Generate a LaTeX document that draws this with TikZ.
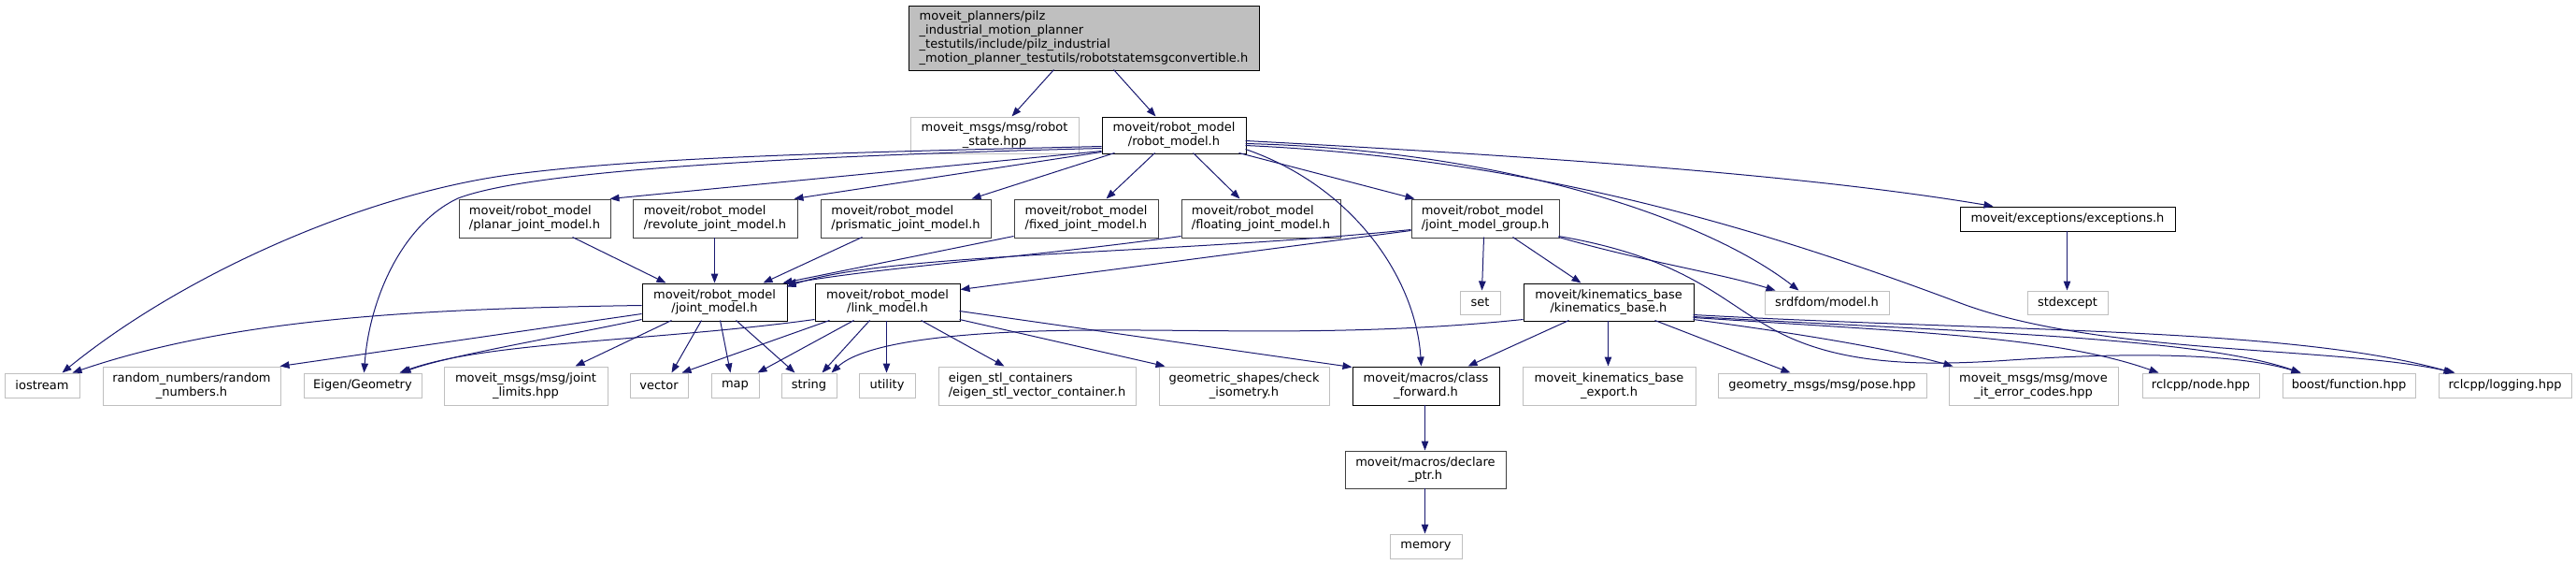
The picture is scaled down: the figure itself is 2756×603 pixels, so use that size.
\documentclass[tikz,border=0pt]{standalone}
\usepackage{fontspec}
\setmainfont{DejaVu Sans}
\usetikzlibrary{arrows.meta,calc}
\definecolor{edgeblue}{HTML}{191970}
\definecolor{lightb}{HTML}{BFBFBF}
\definecolor{darkb}{HTML}{404040}
\newcommand\mkbox[7]{\node[#2, minimum width={(#5)-(#3)}, minimum height={(#6)-(#4)}] (#1) at ({((#3)+(#5))/2},{((#4)+(#6))/2}) {#7};}
\begin{document}
\begin{tikzpicture}[x=1pt,y=-1pt,
  box/.style={draw, rectangle, inner sep=0pt, align=center, line width=1pt,
    font=\fontsize{13}{14.8}\selectfont, text=black},
  docb/.style={box, draw=black},
  darkbox/.style={box, draw=darkb, align=left},
  extb/.style={box, draw=lightb},
  rootb/.style={box, draw=black, fill=lightb, align=left},
  e/.style={draw=edgeblue, line width=1pt, -{Triangle[length=10pt,width=7.5pt]}}]
\fill[white] (0,0) rectangle (2756,603);
\useasboundingbox (0,0) rectangle (2756,603);
% nodes
\mkbox{root}{rootb}{972}{6}{1347}{75}{moveit\_planners/pilz\\\_industrial\_motion\_planner\\\_testutils/include/pilz\_industrial\\\_motion\_planner\_testutils/robotstatemsgconvertible.h}
\mkbox{rstate}{extb}{974}{125}{1154}{164}{moveit\_msgs/msg/robot\\\_state.hpp}
\mkbox{rm}{docb}{1179}{125}{1333}{164}{moveit/robot\_model\\/robot\_model.h}
\mkbox{planar}{darkbox}{491}{213}{653}{254}{moveit/robot\_model\\/planar\_joint\_model.h}
\mkbox{revolute}{darkbox}{677}{213}{853}{254}{moveit/robot\_model\\/revolute\_joint\_model.h}
\mkbox{prismatic}{darkbox}{878}{213}{1060}{254}{moveit/robot\_model\\/prismatic\_joint\_model.h}
\mkbox{fixed}{darkbox}{1085}{213}{1239}{254}{moveit/robot\_model\\/fixed\_joint\_model.h}
\mkbox{floating}{darkbox}{1264}{213}{1434}{254}{moveit/robot\_model\\/floating\_joint\_model.h}
\mkbox{jmg}{darkbox}{1510}{213}{1668}{254}{moveit/robot\_model\\/joint\_model\_group.h}
\mkbox{exc}{docb}{2097}{221}{2327}{247}{moveit/exceptions/exceptions.h}
\mkbox{jm}{docb}{687}{303}{842}{343}{moveit/robot\_model\\/joint\_model.h}
\mkbox{lm}{docb}{872}{303}{1027}{343}{moveit/robot\_model\\/link\_model.h}
\mkbox{set}{extb}{1562}{311}{1605}{336}{set}
\mkbox{kb}{docb}{1630}{303}{1812}{343}{moveit/kinematics\_base\\/kinematics\_base.h}
\mkbox{srdf}{extb}{1888}{311}{2021}{336}{srdfdom/model.h}
\mkbox{stdx}{extb}{2169}{311}{2255}{336}{stdexcept}
\mkbox{iostream}{extb}{5}{399}{85}{425}{iostream}
\mkbox{random}{extb}{110}{392}{300}{433}{random\_numbers/random\\\_numbers.h}
\mkbox{eigen}{extb}{325}{399}{451}{425}{Eigen/Geometry}
\mkbox{jlim}{extb}{475}{392}{650}{433}{moveit\_msgs/msg/joint\\\_limits.hpp}
\mkbox{vector}{extb}{674}{399}{736}{425}{vector}
\mkbox{map}{extb}{761}{399}{812}{425}{map}
\mkbox{string}{extb}{836}{399}{895}{425}{string}
\mkbox{utility}{extb}{919}{399}{979}{425}{utility}
\mkbox{estl}{extb,align=left}{1004}{392}{1215}{433}{eigen\_stl\_containers\\/eigen\_stl\_vector\_container.h}
\mkbox{geom}{extb}{1240}{392}{1422}{433}{geometric\_shapes/check\\\_isometry.h}
\mkbox{cf}{docb}{1447}{392}{1604}{433}{moveit/macros/class\\\_forward.h}
\mkbox{kbx}{extb}{1629}{392}{1814}{433}{moveit\_kinematics\_base\\\_export.h}
\mkbox{pose}{extb}{1838}{399}{2061}{425}{geometry\_msgs/msg/pose.hpp}
\mkbox{err}{extb}{2085}{392}{2266}{433}{moveit\_msgs/msg/move\\\_it\_error\_codes.hpp}
\mkbox{nodehpp}{extb}{2292}{399}{2417}{425}{rclcpp/node.hpp}
\mkbox{func}{extb}{2442}{399}{2584}{425}{boost/function.hpp}
\mkbox{logg}{extb}{2609}{399}{2751}{425}{rclcpp/logging.hpp}
\mkbox{decl}{darkbox,align=center}{1439}{482}{1611}{522}{moveit/macros/declare\\\_ptr.h}
\mkbox{mem}{extb}{1487}{571}{1564}{597}{memory}
% edges from root
\draw[e] ([shift={(156,69)}]root.north west) -- ([shift={(109,0)}]rstate.north west);
\draw[e] ([shift={(220,69)}]root.north west) -- ([shift={(58,0)}]rm.north west);
% edges from robot_model
\draw[e] ([shift={(0,37)}]rm.north west) -- ([shift={(162,0)}]planar.north west);
\draw[e] ([shift={(0,38)}]rm.north west) -- ([shift={(173,0)}]revolute.north west);
\draw[e] ([shift={(14,39)}]rm.north west) -- ([shift={(162,0)}]prismatic.north west);
\draw[e] ([shift={(57,39)}]rm.north west) -- ([shift={(99,0)}]fixed.north west);
\draw[e] ([shift={(98,39)}]rm.north west) -- ([shift={(63,0)}]floating.north west);
\draw[e] ([shift={(147,39)}]rm.north west) -- ([shift={(4,0)}]jmg.north west);
\draw[e] ([shift={(0,32)}]rm.north west) .. controls (900,163) and (700,168) .. (560,185) .. controls (400,203) and (200,290) .. ([shift={(62,0)}]iostream.north west);
\draw[e] ([shift={(0,34)}]rm.north west) .. controls (800,168) and (560,185) .. (490,212) .. controls (430,240) and (395,320) .. ([shift={(65,0)}]eigen.north west);
\draw[e] ([shift={(154,35)}]rm.north west) .. controls (1450,200) and (1515,300) .. ([shift={(74,0)}]cf.north west);
\draw[e] ([shift={(154,26)}]rm.north west) .. controls (1700,170) and (1950,190) .. ([shift={(36,0)}]exc.north west);
\draw[e] ([shift={(154,29)}]rm.north west) .. controls (1600,160) and (1820,230) .. ([shift={(37,0)}]srdf.north west);
\draw[e] ([shift={(154,31)}]rm.north west) .. controls (1650,170) and (1900,250) .. (2100,325) .. controls (2250,380) and (2500,370) .. ([shift={(18,0)}]logg.north west);
% edges from joint_model_group
\draw[e] ([shift={(78,41)}]jmg.north west) -- ([shift={(24,0)}]set.north west);
\draw[e] ([shift={(109,41)}]jmg.north west) -- ([shift={(62,0)}]kb.north west);
\draw[e] ([shift={(158,41)}]jmg.north west) .. controls (1760,280) and (1840,292) .. ([shift={(12,0)}]srdf.north west);
\draw[e] ([shift={(158,40)}]jmg.north west) .. controls (1800,275) and (1840,320) .. (1890,348) .. controls (1960,390) and (2050,392) .. (2150,385) .. controls (2300,375) and (2400,380) .. ([shift={(20,0)}]func.north west);
\draw[e] ([shift={(0,33)}]jmg.north west) .. controls (1250,272) and (950,270) .. ([shift={(155,4)}]jm.north west);
\draw[e] ([shift={(0,34)}]jmg.north west) -- ([shift={(156,7)}]lm.north west);
% joint types to joint_model
\draw[e] ([shift={(122,41)}]planar.north west) -- ([shift={(26,0)}]jm.north west);
\draw[e] ([shift={(88,41)}]revolute.north west) -- ([shift={(78,0)}]jm.north west);
\draw[e] ([shift={(45,41)}]prismatic.north west) -- ([shift={(130,0)}]jm.north west);
\draw[e] ([shift={(0,40)}]fixed.north west) -- ([shift={(151,0)}]jm.north west);
\draw[e] ([shift={(0,40)}]floating.north west) .. controls (1100,275) and (950,285) .. ([shift={(155,1)}]jm.north west);
% edges from joint_model
\draw[e] ([shift={(64,40)}]jm.north west) -- ([shift={(45,0)}]vector.north west);
\draw[e] ([shift={(84,40)}]jm.north west) -- ([shift={(21,0)}]map.north west);
\draw[e] ([shift={(101,40)}]jm.north west) -- ([shift={(15,0)}]string.north west);
\draw[e] ([shift={(0,24)}]jm.north west) .. controls (450,330) and (250,340) .. ([shift={(73,0)}]iostream.north west);
\draw[e] ([shift={(0,33)}]jm.north west) -- ([shift={(190,0)}]random.north west);
\draw[e] ([shift={(0,39)}]jm.north west) .. controls (600,360) and (480,380) .. ([shift={(105,0)}]eigen.north west);
\draw[e] ([shift={(32,40)}]jm.north west) -- ([shift={(141,0)}]jlim.north west);
% edges from link_model
\draw[e] ([shift={(0,39)}]lm.north west) .. controls (700,365) and (520,365) .. ([shift={(103,0)}]eigen.north west);
\draw[e] ([shift={(16,40)}]lm.north west) -- ([shift={(56,0)}]vector.north west);
\draw[e] ([shift={(42,40)}]lm.north west) -- ([shift={(50,0)}]map.north west);
\draw[e] ([shift={(59,40)}]lm.north west) -- ([shift={(44,0)}]string.north west);
\draw[e] ([shift={(77,40)}]lm.north west) -- ([shift={(30,0)}]utility.north west);
\draw[e] ([shift={(114,40)}]lm.north west) -- ([shift={(71,0)}]estl.north west);
\draw[e] ([shift={(155,39)}]lm.north west) -- ([shift={(7,0)}]geom.north west);
\draw[e] ([shift={(155,30)}]lm.north west) -- ([shift={(0,1)}]cf.north west);
% edges from kinematics_base
\draw[e] ([shift={(0,39)}]kb.north west) .. controls (1450,360) and (1300,352) .. (1167,353) .. controls (1000,354) and (920,370) .. ([shift={(54,0)}]string.north west);
\draw[e] ([shift={(49,40)}]kb.north west) -- ([shift={(124,0)}]cf.north west);
\draw[e] ([shift={(91,40)}]kb.north west) -- ([shift={(92,0)}]kbx.north west);
\draw[e] ([shift={(141,40)}]kb.north west) -- ([shift={(78,0)}]pose.north west);
\draw[e] ([shift={(182,39)}]kb.north west) .. controls (1950,360) and (2030,375) .. ([shift={(5,0)}]err.north west);
\draw[e] ([shift={(182,37)}]kb.north west) .. controls (2050,355) and (2200,360) .. ([shift={(18,0)}]nodehpp.north west);
\draw[e] ([shift={(182,36)}]kb.north west) .. controls (2100,355) and (2350,360) .. ([shift={(20,0)}]func.north west);
\draw[e] ([shift={(182,34)}]kb.north west) .. controls (2150,355) and (2450,350) .. ([shift={(16,0)}]logg.north west);
% remaining
\draw[e] ([shift={(115,26)}]exc.north west) -- ([shift={(43,0)}]stdx.north west);
\draw[e] ([shift={(78,41)}]cf.north west) -- ([shift={(86,0)}]decl.north west);
\draw[e] ([shift={(86,40)}]decl.north west) -- ([shift={(38,0)}]mem.north west);
\end{tikzpicture}
\end{document}
